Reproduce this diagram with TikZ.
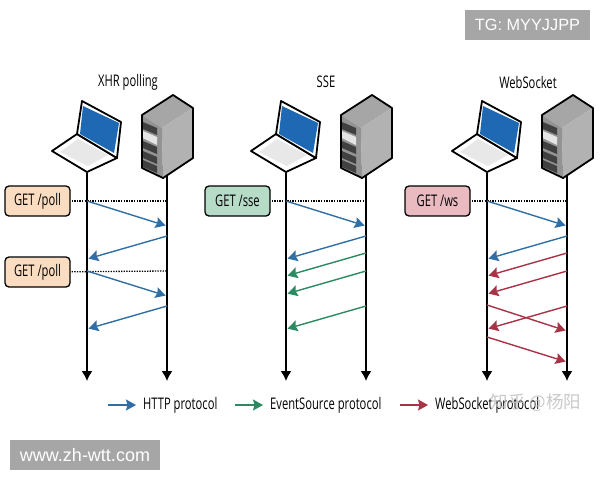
\documentclass[tikz,border=0pt]{standalone}
\usepackage{fontspec}
\setmainfont[FakeStretch=0.7]{Open Sans}
\newfontfamily\markfont{Liberation Sans}
\newfontfamily\cjkfont{Noto Sans CJK SC}
\usetikzlibrary{arrows.meta, positioning}

\definecolor{httpblue}{HTML}{2F6FA5}
\definecolor{esgreen}{HTML}{2B8A5F}
\definecolor{wsred}{HTML}{A83347}
\definecolor{pollfill}{HTML}{FADDC0}
\definecolor{ssefill}{HTML}{B6DCC8}
\definecolor{wsfill}{HTML}{E9BAC0}
\definecolor{screenblue}{HTML}{1F69B4}

\tikzset{
    laptop/.pic={
        \draw[line width=1.8pt, line join=round, fill=white] (-10,-39) -- (-35,-22) -- (0,-1) -- (30,-15) -- cycle;
        \fill[gray!18] (-9,-34) -- (21,-18) -- (1,-7) -- (-27,-21) -- cycle;
        \draw[line width=1.8pt, line join=round, fill=white] (-5,-72) -- (34,-51) -- (30,-15) -- (-10,-39) -- cycle;
        \fill[screenblue] (-4,-67) -- (32,-50) -- (27,-20) -- (-7,-39) -- cycle;
    },
    serverbox/.pic={
        \fill[gray!70] (6,-78) -- (-25,-58) -- (-5,-45) -- (26,-65) -- cycle;
        \fill[gray!60] (-5,-45) -- (26,-65) -- (26,-15) -- (-4,5) -- cycle;
        \fill[gray!85] (-25,-58) -- (-5,-45) -- (-4,5) -- (-25,-5) -- cycle;
        \foreach \slot in {-51,-32,-22,-13}
            \fill[black!75] (-24,\slot) -- (-10,\slot+6) -- (-10,\slot+13) -- (-24,\slot+7) -- cycle;
        \fill[gray!20] (-24,-42) -- (-10,-36) -- (-10,-28) -- (-24,-35) -- cycle;
        \draw[line width=1.8pt, line join=round] (6,-78) -- (-25,-58) -- (-25,-5) -- (-4,5) -- (26,-15) -- (26,-65) -- cycle;
    }
}

\begin{document}
\begin{tikzpicture}[x=1pt, y=-1pt, font=\fontsize{16}{18}\selectfont]
    % Define styles
    \tikzstyle{lifeline} = [line width=1.6pt, -{Latex[length=10pt, width=11pt]}]
    \tikzstyle{request} = [rectangle, draw, line width=1.3pt, rounded corners=4pt, minimum width=65pt, minimum height=30pt, inner sep=0pt]
    \tikzstyle{dots} = [line width=1.3pt, dash pattern=on 1.3pt off 1.3pt, shorten <=1pt]
    \tikzstyle{msg} = [line width=1.4pt, -{Stealth[length=10pt, width=11pt, inset=1.5pt]}, shorten >=1.5pt]
    \tikzstyle{http} = [msg, draw=httpblue, color=httpblue]
    \tikzstyle{es} = [msg, draw=esgreen, color=esgreen]
    \tikzstyle{ws} = [msg, draw=wsred, color=wsred]
    \tikzstyle{legend} = [inner sep=0pt, anchor=west]
    \tikzstyle{banner} = [fill=black!35, text=white, minimum height=30pt, inner sep=0pt]

    \useasboundingbox (0,0) rectangle (600,480);

    % Place points on the lifelines
    \foreach \line/\lx in {c1/87, s1/167, c2/286, s2/366, c3/487, s3/567} {
        \coordinate (\line-top) at (\lx,173);
        \coordinate (\line-end) at (\lx,381);
        \foreach \ly in {201,226,236,253,259,271,276,294,296,305,306,329,331,337,362}
            \coordinate (\line-\ly) at (\lx,\ly);
    }

    % Titles
    \node at (128,82) {XHR polling};
    \node at (326,82) {SSE};
    \node at (528,82) {WebSocket};

    % Draw lifelines
    \foreach \line in {c1, s1, c2, s2, c3, s3}
        \draw [lifeline] (\line-top) -- (\line-end);

    % Place computers
    \foreach \line in {c1, c2, c3}
        \pic at (\line-top) {laptop};
    \foreach \line in {s1, s2, s3}
        \pic at (\line-top) {serverbox};

    % Place requests
    \node [request, fill=pollfill] (poll1) at (37.5,201) {GET /poll};
    \node [request, fill=pollfill] (poll2) at (37.5,272) {GET /poll};
    \node [request, fill=ssefill] (sse) at (237.5,201) {GET /sse};
    \node [request, fill=wsfill] (wsreq) at (437.5,201) {GET /ws};

    \draw [dots] (poll1) -- (s1-201);
    \draw [dots] (poll2) -- (s1-271);
    \draw [dots] (sse) -- (s2-201);
    \draw [dots] (wsreq) -- (s3-201);

    % XHR polling
    \draw [http] (c1-201) -- (s1-226);
    \draw [http] (s1-236) -- (c1-259);
    \draw [http] (c1-271) -- (s1-296);
    \draw [http] (s1-306) -- (c1-329);

    % SSE
    \draw [http] (c2-201) -- (s2-226);
    \draw [http] (s2-236) -- (c2-259);
    \draw [es] (s2-253) -- (c2-276);
    \draw [es] (s2-271) -- (c2-294);
    \draw [es] (s2-306) -- (c2-329);

    % WebSocket
    \draw [http] (c3-201) -- (s3-226);
    \draw [http] (s3-236) -- (c3-259);
    \draw [ws] (s3-253) -- (c3-276);
    \draw [ws] (s3-271) -- (c3-294);
    \draw [ws] (s3-306) -- (c3-329);
    \draw [ws] (c3-305) -- (s3-331);
    \draw [ws] (c3-337) -- (s3-362);

    % Legend
    \coordinate (httpstart) at (108,405);
    \coordinate (esstart) at (235,405);
    \coordinate (wsstart) at (400,405);
    \node [legend] (httplabel) at (143,405) {HTTP protocol};
    \node [legend] (eslabel) at (270,405) {EventSource protocol};
    \node [legend] (wslabel) at (435,405) {WebSocket protocol};
    \draw [http, shorten >=7pt] (httpstart) -- (httplabel);
    \draw [es, shorten >=7pt] (esstart) -- (eslabel);
    \draw [ws, shorten >=7pt] (wsstart) -- (wslabel);

    % Watermarks
    \node [text=black!25, opacity=0.85, font=\cjkfont\fontsize{17.5}{20}\selectfont, anchor=east] (zhihu) at (585,403) {知乎 @杨阳};
    \node [banner, minimum width=125pt, font=\markfont\fontsize{16.3}{18}\selectfont] (tg) at (527.5,25) {TG: MYYJJPP};
    \node [banner, minimum width=150pt, font=\markfont\fontsize{18}{20}\selectfont] (site) at (85,455) {www.zh-wtt.com};
\end{tikzpicture}
\end{document}
